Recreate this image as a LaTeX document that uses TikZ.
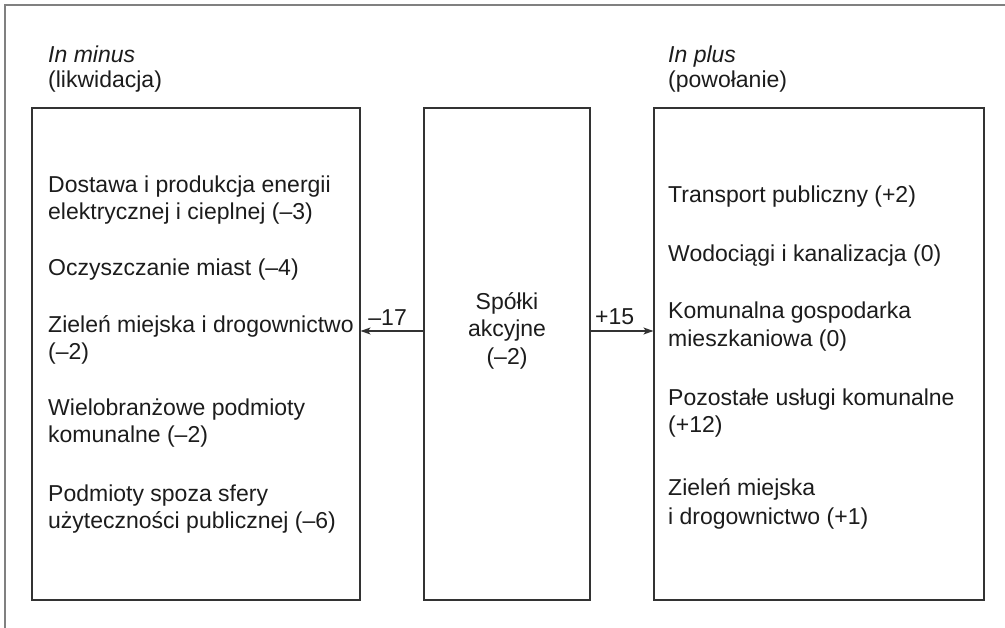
\documentclass[tikz,border=0pt]{standalone}
\usepackage{fontspec}
\setmainfont{Liberation Sans}
\usetikzlibrary{arrows.meta}
\definecolor{txt}{HTML}{1C1C1C}
\definecolor{boxline}{HTML}{333333}
\definecolor{frameline}{HTML}{808080}
\tikzset{
  box/.style={draw=boxline, line width=1.1pt, inner sep=0pt},
  ln/.style={anchor=base west, inner sep=0pt, text=txt, font=\fontsize{23}{27}\selectfont},
  lnc/.style={ln, anchor=base},
  lbl/.style={ln, anchor=base east},
  arr/.style={draw=boxline, line width=1.1pt, -{Stealth[length=10pt,width=7pt,inset=2.5pt]}},
}
\begin{document}
\begin{tikzpicture}[x=1pt,y=-1pt]
\useasboundingbox (0,0) rectangle (1005,628);
\fill[white] (0,0) rectangle (1005,628);
% frame
\coordinate (f1) at (5,628);
\coordinate (f2) at (5,5);
\coordinate (f3) at (1005,5);
\draw[frameline, line width=1.5pt] (f1) -- (f2) -- (f3);
% boxes
\node[box, minimum width=328pt, minimum height=492pt] (L) at (196,354) {};
\node[box, minimum width=166pt, minimum height=492pt] (M) at (507,354) {};
\node[box, minimum width=330pt, minimum height=492pt] (R) at (819,354) {};
% headers
\node[ln, font=\fontsize{23}{27}\selectfont\itshape] (h1) at (48,63) {In minus};
\node[ln] (h2) at (48,88) {(likwidacja)};
\node[ln, font=\fontsize{23}{27}\selectfont\itshape] (h3) at (668,63) {In plus};
\node[ln] (h4) at (668,88) {(powołanie)};
% left box
\node[ln] (l1) at (48,193) {Dostawa i produkcja energii};
\node[ln] (l2) at (48,220) {elektrycznej i cieplnej (–3)};
\node[ln] (l3) at (48,276) {Oczyszczanie miast (–4)};
\node[ln] (l4) at (48,333) {Zieleń miejska i drogownictwo};
\node[ln] (l5) at (48,360) {(–2)};
\node[ln] (l6) at (48,416) {Wielobranżowe podmioty};
\node[ln] (l7) at (48,443) {komunalne (–2)};
\node[ln] (l8) at (48,501) {Podmioty spoza sfery};
\node[ln] (l9) at (48,529) {użyteczności publicznej (–6)};
% middle box
\node[lnc] (m1) at (507,310) {Spółki};
\node[lnc] (m2) at (507,337) {akcyjne};
\node[lnc] (m3) at (507,365) {(–2)};
% right box
\node[ln] (r1) at (668,203) {Transport publiczny (+2)};
\node[ln] (r2) at (668,262) {Wodociągi i kanalizacja (0)};
\node[ln] (r3) at (668,319) {Komunalna gospodarka};
\node[ln] (r4) at (668,347) {mieszkaniowa (0)};
\node[ln] (r5) at (668,406) {Pozostałe usługi komunalne};
\node[ln] (r6) at (668,433) {(+12)};
\node[ln] (r7) at (668,496) {Zieleń miejska};
\node[ln] (r8) at (668,524) {i drogownictwo (+1)};
% arrows
\draw[arr] ([yshift=23pt]M.west) -- ([yshift=23pt]L.east);
\draw[arr] ([yshift=23pt]M.east) -- ([yshift=23pt]R.west);
\node[lbl] (a1) at (407,326) {–17};
\node[ln] (a2) at (595,325) {+15};
\end{tikzpicture}
\end{document}
